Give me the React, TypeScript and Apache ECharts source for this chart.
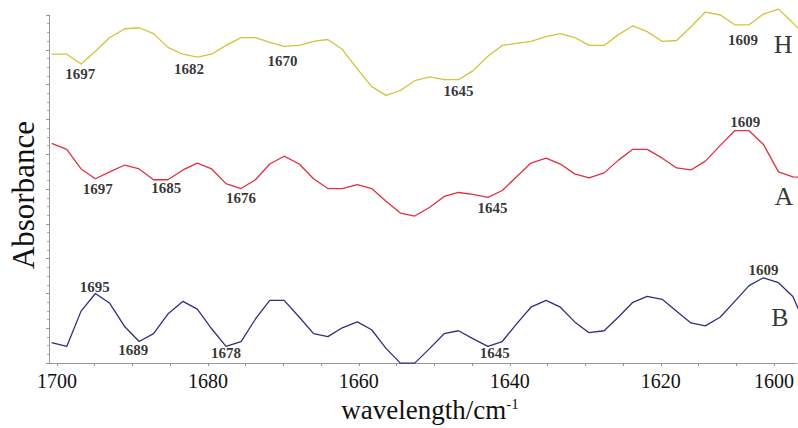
import React, { useEffect, useRef } from "react";
import * as echarts from "echarts";

const wavelengths = [
  1700.7, 1698.7, 1696.8, 1694.9, 1693.0, 1691.0, 1689.1, 1687.2, 1685.3, 1683.3,
  1681.4, 1679.5, 1677.6, 1675.6, 1673.7, 1671.8, 1669.9, 1667.9, 1666.0, 1664.1,
  1662.2, 1660.2, 1658.3, 1656.4, 1654.5, 1652.6, 1650.6, 1648.7, 1646.8, 1644.9,
  1642.9, 1641.0, 1639.1, 1637.2, 1635.2, 1633.3, 1631.4, 1629.5, 1627.5, 1625.6,
  1623.7, 1621.8, 1619.8, 1617.9, 1616.0, 1614.1, 1612.1, 1610.2, 1608.3, 1606.4,
  1604.4, 1602.5, 1600.6,
];

// Absorbance (arbitrary, offset) of each spectrum
const seriesH = [
  3.15, 3.15, 3.05, 3.18, 3.32, 3.41, 3.42, 3.36, 3.22, 3.15,
  3.12, 3.15, 3.24, 3.32, 3.32, 3.27, 3.23, 3.24, 3.28, 3.30,
  3.20, 3.00, 2.82, 2.73, 2.78, 2.88, 2.92, 2.89, 2.89, 2.98,
  3.13, 3.24, 3.26, 3.28, 3.33, 3.36, 3.32, 3.24, 3.24, 3.35,
  3.44, 3.38, 3.28, 3.29, 3.43, 3.58, 3.55, 3.45, 3.45, 3.56,
  3.61, 3.47, 3.32,
];
const seriesA = [
  2.24, 2.18, 1.98, 1.88, 1.95, 2.02, 1.98, 1.87, 1.87, 1.97,
  2.04, 1.98, 1.83, 1.78, 1.87, 2.03, 2.11, 2.03, 1.88, 1.78,
  1.78, 1.82, 1.78, 1.65, 1.53, 1.50, 1.59, 1.70, 1.74, 1.72,
  1.69, 1.76, 1.90, 2.04, 2.09, 2.03, 1.93, 1.89, 1.94, 2.07,
  2.18, 2.18, 2.09, 1.99, 1.97, 2.06, 2.22, 2.37, 2.37, 2.23,
  1.95, 1.90, 1.89,
];
const seriesB = [
  0.21, 0.17, 0.53, 0.71, 0.61, 0.37, 0.22, 0.30, 0.50, 0.63,
  0.55, 0.35, 0.17, 0.22, 0.45, 0.64, 0.64, 0.47, 0.30, 0.27,
  0.36, 0.42, 0.34, 0.15, 0.00, 0.00, 0.15, 0.30, 0.33, 0.25,
  0.17, 0.22, 0.40, 0.57, 0.64, 0.57, 0.42, 0.31, 0.33, 0.47,
  0.62, 0.68, 0.65, 0.53, 0.41, 0.38, 0.47, 0.63, 0.79, 0.87,
  0.82, 0.68, 0.35,
];

// Peak annotations: text, and where it sits (wavelength, absorbance)
const labelTextH = ["1697", "1682", "1670", "1645", "1609"];
const labelXH = [1696.9, 1682.5, 1670.1, 1646.8, 1609.1];
const labelYH = [2.95, 3.0, 3.08, 2.77, 3.3];

const labelTextA = ["1697", "1685", "1676", "1645", "1609"];
const labelXA = [1694.6, 1685.5, 1675.6, 1642.3, 1608.8];
const labelYA = [1.78, 1.79, 1.68, 1.58, 2.46];

const labelTextB = ["1695", "1689", "1678", "1645", "1609"];
const labelXB = [1695.0, 1689.9, 1677.6, 1642.0, 1606.4];
const labelYB = [0.78, 0.13, 0.1, 0.1, 0.95];

// Curve names and where they are written
const curveNames = ["H", "A", "B"];
const curveNameX = [1603.8, 1603.7, 1604.2];
const curveNameY = [3.25, 1.7, 0.47];

// X axis ticks and labels
const minorTickValues = [
  1605, 1610, 1615, 1620, 1625, 1630, 1635, 1640, 1645, 1650, 1655, 1660,
  1665, 1670, 1675, 1680, 1685, 1690, 1695, 1700,
];
const labelTickValues = [1700, 1680, 1660, 1640, 1620, 1605];
const labelTickTexts = ["1700", "1680", "1660", "1640", "1620", "1600"];

const SERIF = "'Liberation Serif', 'Times New Roman', serif";

export default function App() {
  const ref = useRef<HTMLDivElement>(null);

  useEffect(() => {
    if (!ref.current) return;
    const chart = echarts.init(ref.current, undefined, { renderer: "svg" });

    const line = (name: string, values: number[], color: string) => ({
      name,
      type: "line",
      data: wavelengths.map((w, i) => [w, values[i]]),
      showSymbol: false,
      symbol: "none",
      clip: false,
      lineStyle: { color, width: 1.3 },
      z: 2,
    });

    const annot = (texts: string[], xs: number[], ys: number[], size: number, weight: string) => ({
      type: "scatter",
      data: texts.map((t, i) => [xs[i], ys[i], t]),
      symbolSize: 1,
      itemStyle: { color: "rgba(0,0,0,0)" },
      clip: false,
      silent: true,
      z: 5,
      label: {
        show: true,
        position: "inside",
        formatter: (p: any) => p.data[2],
        fontFamily: SERIF,
        fontSize: size,
        fontWeight: weight,
        color: "#000",
      },
    });

    chart.setOption({
      animation: false,
      backgroundColor: "#fff",
      grid: { left: 45, right: 1, top: 15, bottom: 58, containLabel: false },
      xAxis: {
        type: "value",
        inverse: true,
        min: 1601.95,
        max: 1701.05,
        name: "{m|wavelength/cm}{s|-1}",
        nameLocation: "middle",
        nameGap: 26,
        nameTextStyle: {
          fontFamily: SERIF,
          fontSize: 27,
          color: "#111",
          padding: [0, 0, 0, 14],
          rich: {
            m: { fontFamily: SERIF, fontSize: 27, color: "#111" },
            s: { fontFamily: SERIF, fontSize: 15, color: "#111", verticalAlign: "top", padding: [0, 0, 10, 0] },
          },
        },
        axisLine: { lineStyle: { color: "#999", width: 1 } },
        axisTick: { show: true, length: 3, customValues: minorTickValues, lineStyle: { color: "#999" } },
        axisLabel: {
          customValues: labelTickValues,
          formatter: (v: number) => {
            const i = labelTickValues.indexOf(v);
            return i >= 0 ? labelTickTexts[i] : "";
          },
          fontFamily: SERIF,
          fontSize: 20,
          color: "#111",
          margin: 8,
        },
        splitLine: { show: false },
      },
      yAxis: {
        type: "value",
        min: 0,
        max: 3.55,
        interval: 0.355,
        name: "Absorbance",
        nameLocation: "middle",
        nameRotate: 90,
        nameGap: 10,
        nameTextStyle: { fontFamily: SERIF, fontSize: 31, color: "#111", padding: [0, 12, 0, 0] },
        axisLine: { show: true, lineStyle: { color: "#999", width: 1 } },
        axisTick: { show: true, length: 3, lineStyle: { color: "#999" } },
        minorTick: { show: true, splitNumber: 4, length: 2, lineStyle: { color: "#aaa" } },
        axisLabel: { show: false },
        splitLine: { show: false },
      },
      series: [
        line("H", seriesH, "#d4c23c"),
        line("A", seriesA, "#e0303f"),
        line("B", seriesB, "#2f2f80"),
        annot(labelTextH, labelXH, labelYH, 15, "bold"),
        annot(labelTextA, labelXA, labelYA, 15, "bold"),
        annot(labelTextB, labelXB, labelYB, 15, "bold"),
        annot(curveNames, curveNameX, curveNameY, 26, "normal"),
      ],
    });

    return () => chart.dispose();
  }, []);

  return (
    <div
      ref={ref}
      style={{ position: "fixed", left: 0, top: 0, width: 798, height: 428, background: "#fff" }}
    />
  );
}
